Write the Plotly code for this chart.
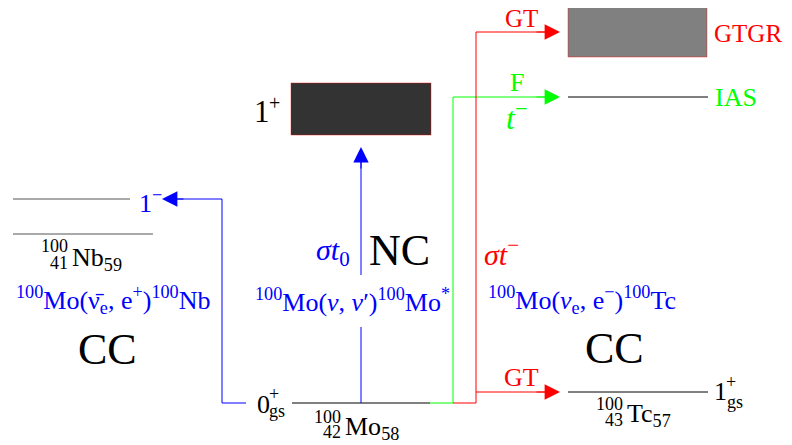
import plotly.graph_objects as go

# level diagram in picture units (x to the right, y downward)
# energy levels: Nb 1-, Nb gs, Mo gs, Tc IAS, Tc gs
level_x0 = [13, 13, 292, 568, 568]
level_x1 = [130, 153, 430, 708, 708]
level_y = [199, 234, 403, 97, 392]
level_color = ["#555555", "#555555", "black", "black", "black"]

# resonance boxes: Mo 1+ (NC), Tc GTGR
box_x0 = [291, 568]
box_x1 = [431, 707]
box_y0 = [83, 6]
box_y1 = [135, 57]
box_fill = ["#333333", "#808080"]

# transition paths
cc_minus_x = [246, 222, 222, 170]
cc_minus_y = [403, 403, 199, 199]
nc_x = [361, 361, None, 361, 361]
nc_y = [403, 327, None, 275, 155]
fermi_x = [430, 453, 453, 555]
fermi_y = [403, 403, 97, 97]
gt_x = [453, 476, 476, 555, None, 476, 555]
gt_y = [403, 403, 32, 32, None, 392, 392]

# arrow tips and tails
arrow_tip_x = [162, 361, 560, 560, 560]
arrow_tip_y = [199, 147, 97, 32, 392]
arrow_tail_x = [185, 361, 535, 535, 535]
arrow_tail_y = [199, 170, 97, 32, 392]
arrow_color = ["blue", "blue", "#00ff00", "red", "red"]

BLUE = "#0000ff"
RED = "#ff0000"
GREEN = "#00ff00"
FONT = "Liberation Serif"
PAGE_OFFSET = 8  # the page body margin pushes the figure 8px right and down

fig = go.Figure()

for x0, x1, y, c in zip(level_x0, level_x1, level_y, level_color):
    fig.add_trace(go.Scatter(x=[x0, x1], y=[y, y], mode="lines",
                             line=dict(color=c, width=1), hoverinfo="skip"))

for x0, x1, y0, y1, f in zip(box_x0, box_x1, box_y0, box_y1, box_fill):
    fig.add_shape(type="rect", x0=x0, x1=x1, y0=y0, y1=y1, fillcolor=f,
                  line=dict(color="rgba(255,0,0,0.4)", width=1), layer="below")

for px, py, c in [(cc_minus_x, cc_minus_y, BLUE), (nc_x, nc_y, BLUE),
                  (fermi_x, fermi_y, GREEN), (gt_x, gt_y, RED)]:
    fig.add_trace(go.Scatter(x=px, y=py, mode="lines", connectgaps=False,
                             line=dict(color=c, width=1), hoverinfo="skip"))

for x, y, ax, ay, c in zip(arrow_tip_x, arrow_tip_y, arrow_tail_x, arrow_tail_y, arrow_color):
    fig.add_annotation(x=x, y=y, ax=ax, ay=ay, xref="x", yref="y", axref="x", ayref="y",
                       text="", showarrow=True, arrowhead=2, arrowsize=2.8,
                       arrowwidth=1.1, arrowcolor=c, standoff=0)


def label(x, y, text, color="black", size=26, xanchor="center"):
    fig.add_annotation(x=x, y=y, xref="x", yref="y", text=text, showarrow=False,
                       xanchor=xanchor, yanchor="middle",
                       font=dict(family=FONT, size=size, color=color))


# left: Nb side
label(137, 201, "1<sup>−</sup>", BLUE, xanchor="left")
label(70, 246, "100", size=18, xanchor="right")
label(70, 263, "41", size=18, xanchor="right")
label(70, 259, "Nb<sub>59</sub>", xanchor="left")
label(113, 300, "<sup>100</sup>Mo(ν̄<sub>e</sub>, e<sup>+</sup>)<sup>100</sup>Nb", BLUE)
label(107, 349, "CC", size=44)

# middle: Mo
label(252, 111, "1", size=31, xanchor="left")
label(267, 103, "+", size=20, xanchor="left")
label(255, 404, "0", xanchor="left")
label(267, 394, "+", size=18, xanchor="left")
label(267, 411, "gs", size=18, xanchor="left")
label(352, 252, "<i>σt</i><sub>0</sub>", BLUE, size=30, xanchor="right")
label(367, 250, "NC", size=44, xanchor="left")
label(352, 300, "<sup>100</sup>Mo(<i>ν</i>, <i>ν</i>′)<sup>100</sup>Mo<sup>*</sup>", BLUE)
label(343, 417, "100", size=18, xanchor="right")
label(343, 432, "42", size=18, xanchor="right")
label(343, 428, "Mo<sub>58</sub>", xanchor="left")

# right: Tc
label(521, 18, "GT", RED, size=25)
label(517, 82, "F", GREEN)
label(517, 116, "<i>t</i><sup>−</sup>", GREEN, size=32)
label(712, 33, "GTGR", RED, size=25, xanchor="left")
label(713, 97, "IAS", GREEN, size=26, xanchor="left")
label(482, 252, "<i>σt</i><sup>−</sup>", RED, size=30, xanchor="left")
label(582, 300, "<sup>100</sup>Mo(<i>ν</i><sub>e</sub>, e<sup>−</sup>)<sup>100</sup>Tc", BLUE)
label(614, 348, "CC", size=44)
label(521, 377, "GT", RED)
label(625, 404, "100", size=18, xanchor="right")
label(625, 420, "43", size=18, xanchor="right")
label(625, 415, "Tc<sub>57</sub>", xanchor="left")
label(712, 391, "1", xanchor="left")
label(724, 382, "+", size=18, xanchor="left")
label(725, 402, "gs", size=18, xanchor="left")

fig.update_layout(width=792, height=445, margin=dict(l=0, r=0, t=0, b=0),
                  plot_bgcolor="white", paper_bgcolor="white", showlegend=False)
fig.update_xaxes(range=[PAGE_OFFSET, 792 + PAGE_OFFSET], visible=False, fixedrange=True)
fig.update_yaxes(range=[445 + PAGE_OFFSET, PAGE_OFFSET], visible=False, fixedrange=True)

fig.write_html("out.html")
